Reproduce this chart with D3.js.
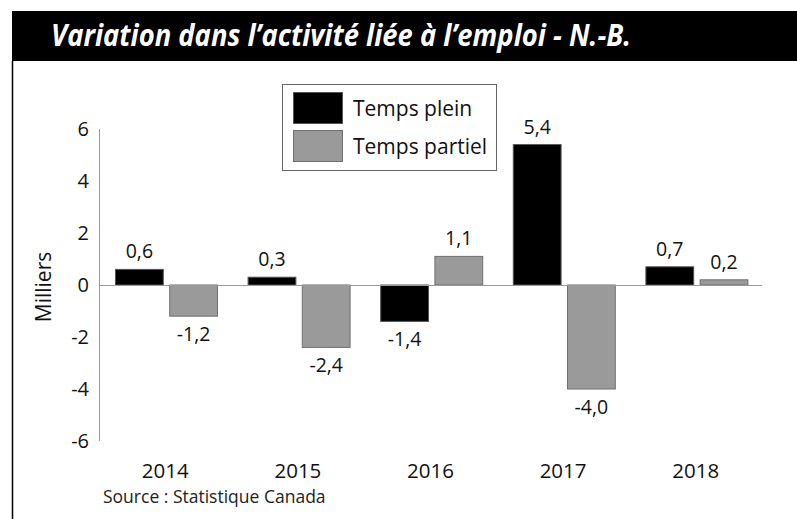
<!DOCTYPE html>
<html>
<head>
<meta charset="utf-8">
<script src="https://cdn.jsdelivr.net/npm/d3@7"></script>
<style>
  body { margin: 0; background: #fff; }
  text { font-family: "Open Sans", "Noto Sans", sans-serif; }
</style>
</head>
<body>
<div class="js-chart"></div>
<script>
var years = ['2014', '2015', '2016', '2017', '2018'];
var seriesNames = ['Temps plein', 'Temps partiel'];
var tempsPlein = [0.6, 0.3, -1.4, 5.4, 0.7];
var tempsPartiel = [-1.2, -2.4, 1.1, -4.0, 0.2];
var yTicks = [-6, -4, -2, 0, 2, 4, 6];
var colors = ['#000000', '#9a9a9a'];
var strokes = ['#555555', '#6f6f6f'];

var width = 797, height = 519;

var svg = d3.select('.js-chart')
  .append('svg')
  .attr('width', width)
  .attr('height', height);

// title bar + left frame line
svg.append('rect')
  .attr('x', 12).attr('y', 11)
  .attr('width', width - 12).attr('height', 50)
  .attr('fill', '#000');

svg.append('line')
  .attr('x1', 12.5).attr('x2', 12.5)
  .attr('y1', 61).attr('y2', height)
  .attr('stroke', '#000').attr('stroke-width', 1.5);

svg.append('text')
  .attr('x', 51).attr('y', 46)
  .attr('fill', '#fff')
  .attr('font-size', 30)
  .attr('font-weight', 'bold')
  .attr('font-style', 'italic')
  .attr('textLength', 580)
  .attr('lengthAdjust', 'spacingAndGlyphs')
  .text('Variation dans l\u2019activit\u00e9 li\u00e9e \u00e0 l\u2019emploi - N.-B.');

var x = d3.scaleBand()
  .domain(years)
  .range([99, 762]);

var xInner = d3.scaleBand()
  .domain(seriesNames)
  .range([16, 119])
  .paddingInner(0.1);

var y = d3.scaleLinear()
  .domain([-6, 6])
  .range([441, 129]);

function fmt(v) {
  return d3.format('.1f')(v).replace('.', ',').replace('\u2212', '-');
}

// y axis line
svg.append('line')
  .attr('x1', 99.5).attr('x2', 99.5)
  .attr('y1', y(6)).attr('y2', y(-6))
  .attr('stroke', '#999').attr('stroke-width', 1);

svg.selectAll('.ytick')
  .data(yTicks)
  .enter()
  .append('text')
  .classed('ytick', true)
  .attr('x', 89)
  .attr('y', function(d) { return y(d) + 7; })
  .attr('text-anchor', 'end')
  .attr('font-family', 'DejaVu Sans')
  .attr('font-size', 20)
  .attr('fill', '#111')
  .text(function(d) { return d; });

svg.append('text')
  .attr('transform', 'translate(51,287) rotate(-90)')
  .attr('text-anchor', 'middle')
  .attr('font-size', 21)
  .attr('fill', '#111')
  .text('Milliers');

var rows = years.map(function(yr, i) {
  return { year: yr, values: [tempsPlein[i], tempsPartiel[i]] };
});

var groups = svg.selectAll('.grp')
  .data(rows)
  .enter()
  .append('g')
  .classed('grp', true)
  .attr('transform', function(d) { return 'translate(' + x(d.year) + ',0)'; });

var cells = groups.selectAll('.cell')
  .data(function(d) {
    return d.values.map(function(v, j) { return { name: seriesNames[j], value: v, idx: j }; });
  })
  .enter();

cells.append('rect')
  .attr('x', function(d) { return xInner(d.name) + 0.5; })
  .attr('y', function(d) { return Math.min(y(d.value), y(0)); })
  .attr('width', xInner.bandwidth() - 1)
  .attr('height', function(d) { return Math.abs(y(d.value) - y(0)); })
  .attr('fill', function(d) { return colors[d.idx]; })
  .attr('stroke', function(d) { return strokes[d.idx]; })
  .attr('stroke-width', 1);

cells.append('text')
  .attr('x', function(d) { return xInner(d.name) + xInner.bandwidth() / 2; })
  .attr('y', function(d) { return d.value >= 0 ? y(d.value) - 11 : y(d.value) + 25; })
  .attr('text-anchor', 'middle')
  .attr('font-size', 19.5)
  .attr('fill', '#111')
  .text(function(d) { return fmt(d.value); });

// zero line
svg.append('line')
  .attr('x1', 99).attr('x2', 762)
  .attr('y1', y(0) + 0.5).attr('y2', y(0) + 0.5)
  .attr('stroke', '#999').attr('stroke-width', 1);

svg.selectAll('.xlab')
  .data(years)
  .enter()
  .append('text')
  .classed('xlab', true)
  .attr('x', function(d) { return x(d) + x.bandwidth() / 2; })
  .attr('y', 478)
  .attr('text-anchor', 'middle')
  .attr('font-size', 20.5)
  .attr('fill', '#111')
  .text(function(d) { return d; });

svg.append('text')
  .attr('x', 103).attr('y', 503)
  .attr('font-size', 17.5)
  .attr('fill', '#222')
  .text('Source : Statistique Canada');

// legend
var legend = svg.append('g');
legend.append('rect')
  .attr('x', 282.5).attr('y', 84.5)
  .attr('width', 214).attr('height', 86)
  .attr('fill', '#fff')
  .attr('stroke', '#666').attr('stroke-width', 1);

legend.selectAll('.sw')
  .data(seriesNames)
  .enter()
  .append('rect')
  .classed('sw', true)
  .attr('x', 293.5)
  .attr('y', function(d, i) { return 92.5 + i * 38; })
  .attr('width', 49).attr('height', 31)
  .attr('fill', function(d, i) { return colors[i]; })
  .attr('stroke', function(d, i) { return strokes[i]; });

legend.selectAll('.lt')
  .data(seriesNames)
  .enter()
  .append('text')
  .classed('lt', true)
  .attr('x', 353)
  .attr('y', function(d, i) { return 116 + i * 38; })
  .attr('font-size', 21)
  .attr('fill', '#111')
  .text(function(d) { return d; });
</script>
</body>
</html>
